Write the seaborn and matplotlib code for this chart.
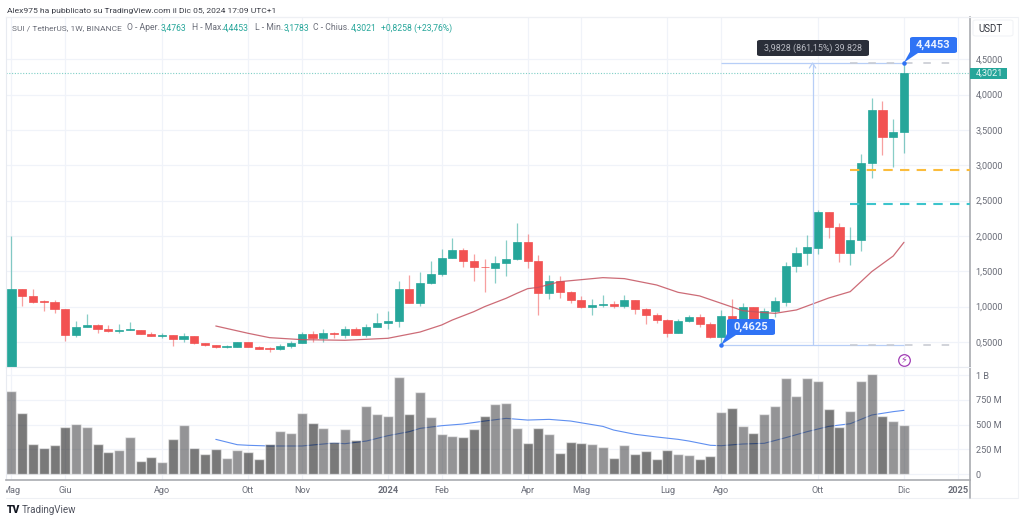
import pandas as pd
import matplotlib
matplotlib.use("Agg")
import matplotlib.pyplot as plt
import seaborn as sns
from matplotlib.patches import Polygon, FancyBboxPatch, Rectangle
from matplotlib.transforms import Bbox

# --------------------------------------------------------------------------------
# Data
# --------------------------------------------------------------------------------

opens = [0.151, 1.245, 1.155, 1.080, 1.061, 0.962, 0.599, 0.712, 0.740, 0.689, 0.651, 0.674,
         0.674, 0.618, 0.590, 0.594, 0.542, 0.580, 0.481, 0.453, 0.434, 0.434, 0.500, 0.434,
         0.415, 0.396, 0.448, 0.491, 0.608, 0.557, 0.632, 0.604, 0.689, 0.604, 0.712, 0.773,
         0.797, 1.250, 1.056, 1.330, 1.457, 1.693, 1.797, 1.641, 1.561, 1.547, 1.617, 1.669,
         1.910, 1.641, 1.193, 1.368, 1.212, 1.089, 1.000, 1.023, 1.042, 1.009, 1.089, 0.967,
         0.877, 0.816, 0.632, 0.797, 0.854, 0.750, 0.571, 0.868, 0.811, 0.995, 0.755, 0.938,
         1.071, 1.580, 1.759, 1.834, 2.343, 2.127, 1.754, 1.943, 3.032, 3.786, 3.400, 3.4763]
closes = [1.245, 1.155, 1.071, 1.061, 0.962, 0.604, 0.717, 0.740, 0.684, 0.651, 0.670, 0.684,
          0.618, 0.590, 0.604, 0.542, 0.580, 0.481, 0.453, 0.429, 0.443, 0.500, 0.434, 0.406,
          0.406, 0.443, 0.491, 0.608, 0.552, 0.627, 0.618, 0.689, 0.604, 0.712, 0.773, 0.797,
          1.250, 1.056, 1.330, 1.462, 1.693, 1.797, 1.641, 1.556, 1.556, 1.613, 1.674, 1.910,
          1.641, 1.193, 1.368, 1.212, 1.089, 1.000, 1.019, 1.042, 1.009, 1.089, 0.967, 0.877,
          0.816, 0.632, 0.802, 0.854, 0.750, 0.571, 0.868, 0.755, 0.995, 0.755, 0.938, 1.075,
          1.580, 1.754, 1.839, 2.339, 2.127, 1.754, 1.943, 3.027, 3.786, 3.395, 3.475, 4.3021]
highs = [2.004, 1.245, 1.254, 1.094, 1.094, 0.962, 0.797, 0.891, 0.755, 0.740, 0.759, 0.783,
         0.674, 0.646, 0.632, 0.594, 0.627, 0.580, 0.491, 0.462, 0.462, 0.505, 0.505, 0.443,
         0.434, 0.467, 0.509, 0.641, 0.651, 0.689, 0.641, 0.726, 0.707, 0.750, 0.915, 0.934,
         1.358, 1.448, 1.490, 1.650, 1.811, 1.971, 1.830, 1.745, 1.669, 1.716, 1.943, 2.183,
         2.028, 1.726, 1.443, 1.434, 1.221, 1.146, 1.103, 1.165, 1.075, 1.165, 1.089, 0.981,
         0.905, 0.825, 0.825, 0.882, 0.896, 0.778, 0.953, 1.113, 1.047, 1.000, 0.976, 1.132,
         1.632, 1.848, 2.009, 2.362, 2.343, 2.188, 2.131, 3.159, 3.946, 3.913, 3.654, 4.4453]
lows = [0.151, 1.009, 1.056, 0.938, 0.905, 0.509, 0.566, 0.712, 0.632, 0.637, 0.627, 0.670,
        0.608, 0.580, 0.561, 0.448, 0.500, 0.476, 0.443, 0.420, 0.420, 0.425, 0.425, 0.396,
        0.359, 0.392, 0.420, 0.486, 0.505, 0.500, 0.552, 0.561, 0.599, 0.566, 0.707, 0.684,
        0.717, 1.052, 1.009, 1.325, 1.438, 1.688, 1.556, 1.368, 1.212, 1.339, 1.434, 1.660,
        1.542, 0.882, 1.108, 1.127, 1.052, 0.976, 0.887, 1.000, 0.976, 0.986, 0.896, 0.755,
        0.769, 0.575, 0.623, 0.788, 0.707, 0.561, 0.4625, 0.740, 0.788, 0.740, 0.740, 0.858,
        1.014, 1.495, 1.589, 1.745, 1.966, 1.636, 1.589, 1.792, 2.824, 3.140, 2.975, 3.1783]
volumes = [842, 613, 306, 266, 290, 478, 505, 478, 306, 222, 246, 374, 135, 168, 125, 354, 492,
           259, 205, 249, 158, 239, 219, 155, 300, 438, 411, 616, 519, 461, 327, 458, 340, 690,
           603, 589, 976, 609, 828, 576, 407, 387, 377, 455, 582, 704, 714, 468, 313, 465, 401,
           215, 320, 310, 306, 269, 165, 293, 205, 232, 152, 239, 205, 195, 148, 182, 623, 663,
           481, 411, 603, 684, 970, 785, 973, 943, 653, 475, 636, 939, 1013, 586, 532, 498]

ma_bars = [19, 22, 24, 27, 31, 35, 38, 40, 41, 43, 44, 46, 47, 48, 49, 51, 55, 57, 60, 62, 64,
           66, 68, 70, 71, 73, 74, 76, 78, 79, 80, 82, 83]
ma_price = [0.726, 0.623, 0.561, 0.533, 0.524, 0.552, 0.641, 0.740, 0.811, 0.929, 1.000, 1.118,
            1.188, 1.254, 1.273, 1.353, 1.410, 1.396, 1.306, 1.202, 1.151, 1.047, 0.943, 0.915,
            0.905, 0.953, 1.009, 1.122, 1.212, 1.353, 1.495, 1.716, 1.910]

vol_ma_bars = [19, 21, 22, 24, 27, 30, 31, 33, 35, 37, 38, 40, 42, 44, 46, 48, 50, 52, 55, 56,
               58, 60, 62, 63, 65, 66, 68, 70, 72, 74, 76, 78, 80, 82, 83]
vol_ma = [350, 296, 290, 283, 283, 313, 306, 333, 387, 428, 461, 488, 505, 535, 562, 545, 552,
          535, 481, 444, 401, 374, 350, 333, 290, 286, 303, 310, 367, 428, 481, 508, 596, 630, 643]

month_bars = [0, 5, 14, 22, 27, 35, 40, 48, 53, 61, 66, 75, 83, 88]
month_names = ["Mag", "Giu", "Ago", "Ott", "Nov", "2024", "Feb", "Apr", "Mag", "Lug", "Ago", "Ott", "Dic", "2025"]

price_ticks = [0.5, 1.0, 1.5, 2.0, 2.5, 3.0, 3.5, 4.0, 4.5]
price_labels = ["0,5000", "1,0000", "1,5000", "2,0000", "2,5000", "3,0000", "3,5000", "4,0000", "4,5000"]
vol_ticks = [0, 250, 500, 750, 1000]
vol_labels = ["0", "250 M", "500 M", "750 M", "1 B"]

last_close = 4.3021
range_high = 4.4453
range_low = 0.4625
orange_level = 2.933
teal_level = 2.457

# --------------------------------------------------------------------------------
# Figure Setup
# --------------------------------------------------------------------------------

sns.set_theme(style="white")
plt.rcParams["font.family"] = ["Roboto", "DejaVu Sans"]

W, H = 1024, 522
GREEN = "#26a69a"
RED = "#f25252"
BLUE = "#2f73f5"
GRID = "#f0f3f9"
TEXT = "#6a6d78"

fig = plt.figure(figsize=(W / 100, H / 100), dpi=100, facecolor="white")


def pane(left, top, right, bottom):
    return fig.add_axes([left / W, 1 - bottom / H, (right - left) / W, (bottom - top) / H])


def px_text(x, y, s, **kw):
    kw.setdefault("va", "center")
    kw.setdefault("color", TEXT)
    kw.setdefault("fontsize", 6.1)
    return fig.text(x / W, 1 - y / H, s, **kw)


ax = pane(6, 17, 970, 367)
vol = pane(6, 367, 970, 480)

df = pd.DataFrame({"bar": range(len(opens)), "open": opens, "close": closes,
                   "high": highs, "low": lows, "volume": volumes})
df["up"] = df["close"] >= df["open"]
df["bottom"] = df[["open", "close"]].min(axis=1)
df["height"] = (df["open"] - df["close"]).abs()

for a in (ax, vol):
    a.set_xlim(-0.511, 89.14)
    a.set_xticks(month_bars)
    a.grid(True, color=GRID, linewidth=0.9)
    a.set_axisbelow(True)
    a.yaxis.tick_right()
    a.tick_params(axis="both", length=0, colors=TEXT, labelsize=6.6, pad=4)
    for s in a.spines.values():
        s.set_color("#e8ebf1")
        s.set_linewidth(0.8)
    a.spines["right"].set_color("#a9abb0")
    a.spines["right"].set_linewidth(1.2)

# --------------------------------------------------------------------------------
# Price Pane
# --------------------------------------------------------------------------------

ax.set_ylim(0.146, 5.097)
ax.set_yticks(price_ticks, price_labels)
ax.tick_params(axis="x", labelbottom=False)

colors = df["up"].map({True: GREEN, False: RED})
ax.vlines(df["bar"], df["low"], df["high"], colors=colors, linewidth=0.9, alpha=0.55, zorder=3)
ax.bar(df["bar"], df["height"], bottom=df["bottom"], width=0.76, color=colors,
       edgecolor=colors, linewidth=0.5, zorder=4)

sns.lineplot(x=ma_bars, y=ma_price, ax=ax, color="#c4525f", linewidth=0.9, alpha=0.85, zorder=5)

ax.axhline(last_close, color="#7fcfc6", linewidth=0.8, linestyle=(0, (1, 1.5)), zorder=2)

# Measure tool and level lines
ax.hlines([range_high, range_low], 66, 83, color="#b7cef7", linewidth=0.9, zorder=6)
ax.vlines(74.5, range_low, range_high, color="#b7cef7", linewidth=0.9, zorder=6)
ax.plot([74.2, 74.5, 74.8], [range_high - 0.07, range_high, range_high - 0.07],
        color="#b7cef7", linewidth=0.9, zorder=6)
ax.hlines([range_high, range_low], 78, 88, color="#c9ccd3", linewidth=1.2,
          linestyle=(0, (4.5, 6.5)), zorder=6)
ax.hlines(orange_level, 78, 89.14, color="#fbbc3c", linewidth=1.5, linestyle=(0, (4.5, 3.5)), zorder=6)
ax.hlines(teal_level, 78, 89.14, color="#3cc4cc", linewidth=1.5, linestyle=(0, (4.5, 3.5)), zorder=6)
ax.scatter([66, 83], [range_low, range_high], s=5, color=BLUE, zorder=8)

# Lightning event marker
ax.scatter([83], [0.25], s=70, facecolor="white", edgecolor="#a03cb4", linewidth=0.9, zorder=7)
ax.text(83, 0.25, "\u26a1", color="#a03cb4", fontsize=7, ha="center", va="center",
        family=["DejaVu Sans"], zorder=8)

# --------------------------------------------------------------------------------
# Volume Pane
# --------------------------------------------------------------------------------

vol.set_ylim(-60.6, 1081)
sns.lineplot(x=vol_ma_bars, y=vol_ma, ax=vol, color="#5f8ff0", linewidth=0.8, zorder=1)
sns.barplot(data=df, x="bar", y="volume", hue="up", palette={True: "#3c3c40", False: "#0c0c0c"},
            native_scale=True, dodge=False, width=0.93, errorbar=None, legend=False,
            alpha=0.55, ax=vol, zorder=2)
vol.set_xlim(-0.511, 89.14)
vol.set_yticks(vol_ticks, vol_labels)
vol.set_xticks(month_bars, month_names)
vol.set_xlabel("")
vol.set_ylabel("")
vol.tick_params(axis="x", pad=4)
vol.spines["bottom"].set_color("#a9abb0")
vol.spines["bottom"].set_linewidth(1.2)

for lab, name in zip(vol.get_xticklabels(), month_names):
    if name in ("2024", "2025"):
        lab.set_fontweight("bold")

# "Mag" is cut by the left edge of the pane
first = vol.get_xticklabels()[0]
first.set_clip_on(True)
first.set_clip_box(Bbox([[6, 0], [970, H]]))

# --------------------------------------------------------------------------------
# Frame, Labels and Callouts
# --------------------------------------------------------------------------------

fig.add_artist(plt.Line2D([6 / W, 1018 / W], [1 - 498 / H] * 2, color="#eef0f4", linewidth=0.8))
fig.add_artist(plt.Line2D([970 / W, 970 / W], [1 - 498 / H, 1 - 480 / H], color="#a9abb0", linewidth=1.2))
fig.add_artist(plt.Line2D([6 / W, 1018 / W], [1 - 17 / H] * 2, color="#eef0f4", linewidth=0.8))
fig.add_artist(plt.Line2D([1018 / W, 1018 / W], [1 - 17 / H, 1 - 498 / H], color="#f1f3f6", linewidth=0.8))

px_text(7, 10.5, "Alex975 ha pubblicato su TradingView.com il Dic 05, 2024 17:09 UTC+1",
        color="#3c3f48", fontsize=6.1)

px_text(12, 28, "SUI / TetherUS, 1W, BINANCE", fontsize=6.05)
header = [(127, "O - Aper.", TEXT), (161, "3,4763", GREEN), (192, "H - Max.", TEXT), (223, "4,4453", GREEN),
          (255, "L - Min.", TEXT), (284, "3,1783", GREEN), (313, "C - Chius.", TEXT), (351, "4,3021", GREEN),
          (381, "+0,8258 (+23,76%)", GREEN)]
for x, s, c in header:
    px_text(x, 28, s, color=c, fontsize=6.2)

fig.add_artist(FancyBboxPatch((973 / W, 1 - 36 / H), 40 / W, 16 / H, boxstyle="round,pad=0,rounding_size=0.003",
                              transform=fig.transFigure, facecolor="white", edgecolor="#f0f2f5", linewidth=0.7))
px_text(978, 28.5, "USDT", color="#33363f", fontsize=7)

fig.add_artist(Rectangle((970 / W, 1 - 78.5 / H), 37 / W, 11 / H, transform=fig.transFigure,
                         facecolor=GREEN, edgecolor="none", zorder=5))
px_text(975.5, 73, "4,3021", color="#e8f7f5", fontsize=6.6, zorder=6)


def callout(left, top, right, bottom, tail, label, face, color, size, weight):
    fig.add_artist(FancyBboxPatch((left / W, 1 - bottom / H), (right - left) / W, (bottom - top) / H,
                                  boxstyle="round,pad=0,rounding_size=0.003", transform=fig.transFigure,
                                  facecolor=face, edgecolor="none", zorder=7))
    if tail is not None:
        fig.add_artist(Polygon([(tail[0] / W, 1 - tail[1] / H), (tail[2] / W, 1 - tail[3] / H),
                                (tail[4] / W, 1 - tail[5] / H)], transform=fig.transFigure,
                               facecolor=face, edgecolor="none", zorder=7))
    px_text((left + right) / 2, (top + bottom) / 2, label, color=color, ha="center", fontsize=size,
            fontweight=weight, zorder=8)


callout(910, 37, 957, 53, (904, 62.5, 911, 50, 918, 53), "4,4453", BLUE, "#eaf1ff", 8, "bold")
callout(727, 319, 775, 335, (721, 345, 728, 332, 736, 335), "0,4625", BLUE, "#eaf1ff", 8, "bold")
callout(757, 40, 869, 56, None, "3,9828 (861,15%) 39.828", "#2a2e39", "#b8bac2", 6.4, "normal")

px_text(7, 510, "TV", color="#131722", fontsize=7.5, fontweight="black")
px_text(22, 510, "TradingView", color="#50535e", fontsize=7)

fig.savefig("out.png", dpi=100, facecolor="white")
